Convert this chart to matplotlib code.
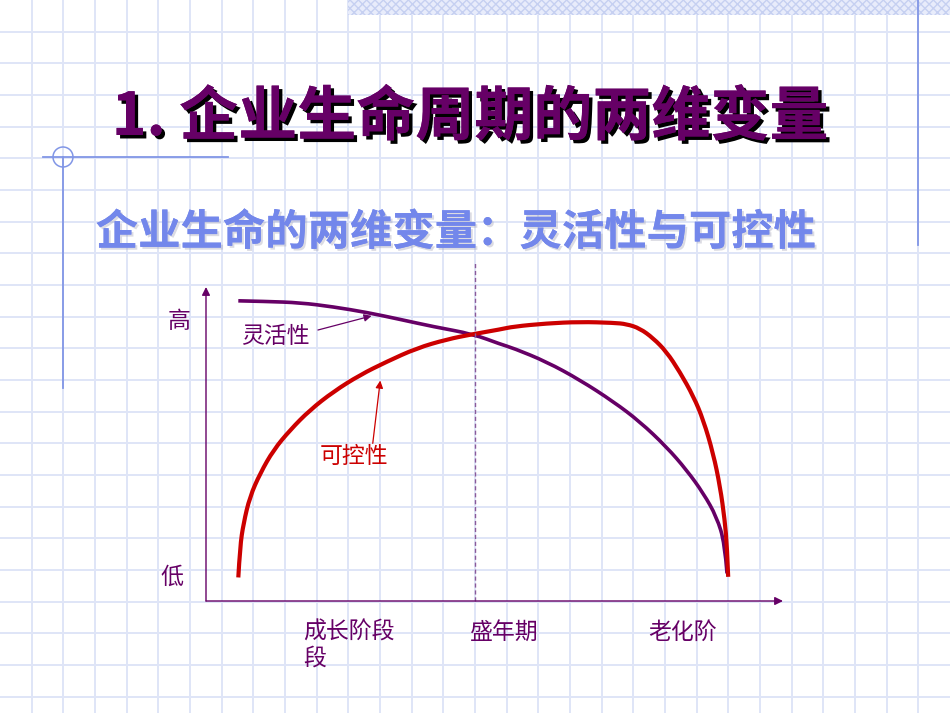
import matplotlib.pyplot as plt
import matplotlib.patheffects as pe
from matplotlib.patches import Rectangle, Circle, PathPatch
from matplotlib.path import Path

plt.rcParams['font.family'] = ['Noto Sans CJK SC', 'DejaVu Sans']

# ------------------------------------------------------------
# Data (x = life stage, y = level, 0-100)
# ------------------------------------------------------------

TITLE = "1. 企业生命周期的两维变量"
SUBTITLE = "企业生命的两维变量：灵活性与可控性"

flex_x = [5.6, 10.5, 16.3, 22.0, 27.9, 33.6, 39.3, 46.3, 51.0, 53.3,
          59.0, 64.8, 70.6, 75.2, 79.8, 83.3, 86.2, 88.5, 89.9, 90.3]
flex_y = [95.6, 95.4, 95.0, 93.7, 91.9, 89.7, 87.4, 85.0, 81.8, 80.5,
          76.2, 70.4, 63.5, 57.1, 49.1, 41.7, 34.3, 26.8, 18.4, 8.8]

ctrl_x = [5.6, 5.9, 6.5, 7.6, 9.4, 11.7, 14.6, 18.0, 22.1, 26.7, 31.3,
          36.5, 41.7, 46.3, 51.0, 53.3, 59.0, 64.8, 70.6, 72.9, 75.2,
          77.5, 79.8, 82.1, 84.5, 86.2, 87.9, 89.1, 89.9, 90.3, 90.5]
ctrl_y = [7.5, 17.3, 24.7, 33.2, 40.7, 48.1, 54.5, 60.8, 66.7, 72.0, 76.2,
          80.5, 83.3, 85.0, 86.5, 87.4, 88.4, 88.9, 88.6, 88.2, 86.8,
          83.7, 79.4, 73.0, 65.1, 57.6, 47.0, 36.4, 25.8, 17.3, 7.7]

PEAK_X = 46.6

level_labels = ["高", "低"]
level_pos = [(-4.7, 88.9), (-5.9, 7.6)]

stage_labels = ["成长阶段\n段", "盛年期", "老化阶"]
stage_x = [16.8, 45.8, 76.6]

# series labels: text position, arrow tail, arrow head
flex_label = ("灵活性", (12.0, 84.1), (19.4, 86.3), (28.7, 90.8))
ctrl_label = ("可控性", (25.6, 46.0), (28.9, 50.2), (30.2, 70.2))

PURPLE = "#660066"
RED = "#cc0000"
GRID = "#dfe5f7"
DECOR = "#8196e6"


def smooth_curve(ax, xs, ys, color, lw):
    """Draw the read points as a smooth quadratic-Bezier path."""
    pts = list(zip(xs, ys))
    verts = [pts[0]]
    codes = [Path.MOVETO]
    for k in range(1, len(pts) - 1):
        mid = ((pts[k][0] + pts[k + 1][0]) / 2,
               (pts[k][1] + pts[k + 1][1]) / 2)
        if k == len(pts) - 2:
            mid = pts[-1]
        verts += [pts[k], mid]
        codes += [Path.CURVE3, Path.CURVE3]
    patch = PathPatch(Path(verts, codes), facecolor="none", edgecolor=color,
                      lw=lw, capstyle="butt", joinstyle="round",
                      clip_on=False)
    ax.add_patch(patch)


# ------------------------------------------------------------
# Slide background
# ------------------------------------------------------------

W, H = 950, 713
fig = plt.figure(figsize=(9.5, 7.13), dpi=100)
fig.patch.set_facecolor("white")

bg = fig.add_axes([0, 0, 1, 1], zorder=0)
bg.set_xlim(0, W)
bg.set_ylim(H, 0)
bg.axis("off")

cell = W / 30
for i in range(1, 30):
    bg.axvline(i * cell, color=GRID, lw=1.4, zorder=0)
for j in range(1, 23):
    bg.axhline(j * cell, color=GRID, lw=1.4, zorder=0)

bg.add_patch(Rectangle((348, 0), W - 348, 15, facecolor="#e8ecfb",
                       edgecolor="#c6d0f1", hatch="xxxx", lw=0, zorder=1))
bg.plot([918, 918], [0, 245], color=DECOR, lw=1.3, zorder=2)
bg.plot([43, 228], [157, 157], color=DECOR, lw=1.3, zorder=2)
bg.plot([63, 63], [157, 388], color=DECOR, lw=1.3, zorder=2)
bg.add_patch(Circle((63, 157), 10, fill=False, edgecolor=DECOR, lw=1.1,
                    zorder=2))

bg.text(470, 118, TITLE, ha="center", va="center", fontsize=42.5,
        fontweight="heavy", color=PURPLE, zorder=3,
        path_effects=[pe.withSimplePatchShadow(offset=(2.5, -2.5),
                                               shadow_rgbFace="black",
                                               alpha=1.0),
                      pe.Normal()])

bg.text(456, 233, SUBTITLE, ha="center", va="center", fontsize=30.5,
        fontweight="bold", color="#7387eb", zorder=3,
        path_effects=[pe.withSimplePatchShadow(offset=(1.5, -1.5),
                                               shadow_rgbFace="#9a9ab0",
                                               alpha=0.35),
                      pe.Normal()])

# ------------------------------------------------------------
# Chart
# ------------------------------------------------------------

ax = fig.add_axes([206 / W, (H - 601) / H, 577 / W, 314 / H], zorder=1)
ax.set_facecolor("none")
ax.set_xlim(0, 100)
ax.set_ylim(0, 100)
for side in ax.spines.values():
    side.set_visible(False)
ax.set_xticks([])
ax.set_yticks([])

axis_arrow = dict(arrowstyle="-|>", color=PURPLE, lw=1.0,
                  mutation_scale=12, shrinkA=0, shrinkB=0)
ax.annotate("", xy=(0, 1), xytext=(0, 0), xycoords="axes fraction",
            arrowprops=axis_arrow)
ax.annotate("", xy=(1, 0), xytext=(0, 0), xycoords="axes fraction",
            arrowprops=axis_arrow)

ax.plot([PEAK_X, PEAK_X], [0, 108], color="#8a5a9a", lw=1.0,
        dashes=(3, 2), clip_on=False)

smooth_curve(ax, flex_x, flex_y, PURPLE, 2.6)
smooth_curve(ax, ctrl_x, ctrl_y, RED, 3.0)

for (label, text_xy, tail, head), color in [(flex_label, PURPLE),
                                            (ctrl_label, RED)]:
    ax.text(*text_xy, label, ha="center", va="center", fontsize=16.5,
            color=color)
    ax.annotate("", xy=head, xytext=tail,
                arrowprops=dict(arrowstyle="-|>", color=color, lw=0.9,
                                mutation_scale=11, shrinkA=0, shrinkB=0))

for label, (lx, ly) in zip(level_labels, level_pos):
    ax.text(lx, ly, label, ha="center", va="center", fontsize=16.5,
            color=PURPLE, clip_on=False)

for label, sx in zip(stage_labels, stage_x):
    ax.text(sx, -6.2, label, ha="left", va="top", fontsize=16.5,
            color=PURPLE, linespacing=1.2, clip_on=False)

fig.savefig("out.png", dpi=100, facecolor="white")
